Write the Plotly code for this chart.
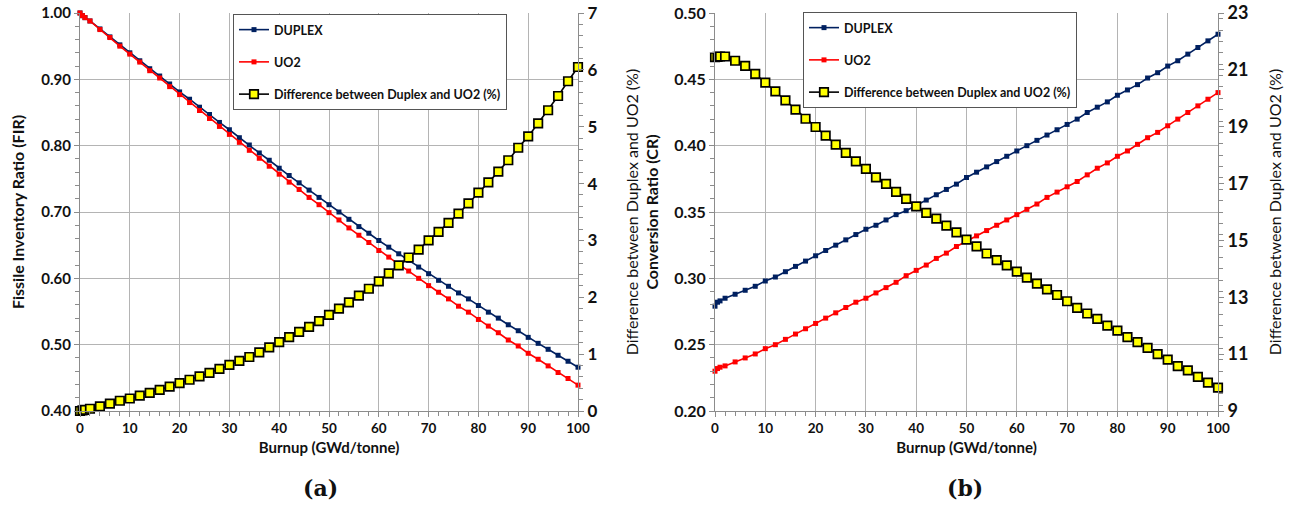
import plotly.graph_objects as go

# ---------------- data ----------------
burnup = [0, 0.5, 1, 2, 4, 6, 8, 10, 12, 14, 16, 18, 20, 22, 24, 26, 28, 30, 32, 34, 36, 38,
          40, 42, 44, 46, 48, 50, 52, 54, 56, 58, 60, 62, 64, 66, 68, 70, 72, 74, 76, 78,
          80, 82, 84, 86, 88, 90, 92, 94, 96, 98, 100]

# Panel (a): Fissile Inventory Ratio
fir_duplex = [1.000, 0.996, 0.993, 0.988, 0.976, 0.964, 0.952, 0.940, 0.928, 0.916, 0.905,
              0.893, 0.881, 0.870, 0.858, 0.847, 0.835, 0.824, 0.812, 0.801, 0.789, 0.778,
              0.766, 0.755, 0.744, 0.733, 0.722, 0.711, 0.700, 0.689, 0.678, 0.668, 0.657,
              0.647, 0.637, 0.627, 0.617, 0.607, 0.597, 0.588, 0.578, 0.569, 0.559, 0.549,
              0.540, 0.530, 0.521, 0.511, 0.502, 0.493, 0.484, 0.475, 0.466]
fir_uo2 = [1.000, 0.996, 0.993, 0.988, 0.975, 0.963, 0.950, 0.938, 0.926, 0.913, 0.902,
           0.889, 0.877, 0.865, 0.853, 0.841, 0.829, 0.817, 0.805, 0.793, 0.781, 0.769,
           0.757, 0.745, 0.734, 0.722, 0.711, 0.699, 0.688, 0.676, 0.665, 0.654, 0.642,
           0.632, 0.621, 0.611, 0.600, 0.589, 0.579, 0.569, 0.558, 0.549, 0.538, 0.528,
           0.518, 0.507, 0.498, 0.487, 0.478, 0.468, 0.458, 0.449, 0.439]
fir_diff = [0.00, 0.01, 0.02, 0.04, 0.08, 0.13, 0.18, 0.22, 0.27, 0.32, 0.37, 0.43, 0.49,
            0.55, 0.61, 0.67, 0.74, 0.81, 0.88, 0.95, 1.03, 1.12, 1.21, 1.30, 1.39, 1.48,
            1.58, 1.69, 1.80, 1.91, 2.03, 2.15, 2.28, 2.42, 2.56, 2.70, 2.84, 3.00, 3.15,
            3.31, 3.47, 3.65, 3.84, 4.02, 4.21, 4.41, 4.63, 4.83, 5.06, 5.29, 5.54, 5.80, 6.05]

# Panel (b): Conversion Ratio
cr_duplex = [0.279, 0.282, 0.283, 0.285, 0.288, 0.291, 0.294, 0.298, 0.301, 0.305, 0.309,
             0.313, 0.317, 0.321, 0.325, 0.329, 0.333, 0.337, 0.340, 0.344, 0.348, 0.351,
             0.355, 0.359, 0.363, 0.367, 0.371, 0.376, 0.380, 0.384, 0.388, 0.392, 0.396,
             0.400, 0.404, 0.408, 0.412, 0.416, 0.420, 0.425, 0.429, 0.433, 0.438, 0.442,
             0.446, 0.451, 0.455, 0.460, 0.464, 0.469, 0.474, 0.479, 0.484]
cr_uo2 = [0.230, 0.232, 0.233, 0.234, 0.237, 0.240, 0.243, 0.247, 0.250, 0.254, 0.258,
          0.262, 0.266, 0.270, 0.274, 0.278, 0.282, 0.285, 0.289, 0.293, 0.297, 0.302,
          0.306, 0.310, 0.315, 0.319, 0.324, 0.328, 0.332, 0.336, 0.340, 0.344, 0.348,
          0.352, 0.356, 0.361, 0.365, 0.369, 0.373, 0.378, 0.383, 0.387, 0.392, 0.396,
          0.401, 0.406, 0.410, 0.415, 0.420, 0.425, 0.430, 0.435, 0.440]
cr_diff = [21.45, 21.46, 21.47, 21.47, 21.32, 21.14, 20.86, 20.55, 20.24, 19.93, 19.60,
           19.28, 18.99, 18.69, 18.37, 18.08, 17.78, 17.52, 17.22, 16.99, 16.71, 16.46,
           16.20, 15.97, 15.77, 15.52, 15.28, 15.03, 14.79, 14.54, 14.31, 14.12, 13.90,
           13.69, 13.48, 13.28, 13.08, 12.86, 12.63, 12.43, 12.24, 12.00, 11.83, 11.60,
           11.42, 11.22, 11.00, 10.81, 10.58, 10.43, 10.20, 10.00, 9.82]

series_names = ["DUPLEX", "UO2", "Difference between Duplex and UO2 (%)"]
x_title = "Burnup (GWd/tonne)"
panel_labels = ["(a)", "(b)"]

# ---------------- styles ----------------
NAVY = "#002060"
RED = "#FF0000"
YELLOW = "#FFFF00"
GRID = "#B4B4B4"
AXIS = "#8C8C8C"
FONT = "Lato"


def bold(size):
    return dict(family=FONT, size=size, color="#111111", weight="bold")


fig = go.Figure()


def add_panel(xa, ya, ya2, legend, duplex, uo2, diff):
    fig.add_trace(go.Scatter(
        x=burnup, y=duplex, name=series_names[0], mode="lines+markers",
        line=dict(color=NAVY, width=1.6), marker=dict(symbol="square", size=5, color=NAVY),
        xaxis=xa, yaxis=ya, legend=legend, legendgroup=legend + "d", cliponaxis=False))
    fig.add_trace(go.Scatter(
        x=burnup, y=uo2, name=series_names[1], mode="lines+markers",
        line=dict(color=RED, width=1.6), marker=dict(symbol="square", size=5, color=RED),
        xaxis=xa, yaxis=ya, legend=legend, legendgroup=legend + "u", cliponaxis=False))
    fig.add_trace(go.Scatter(
        x=burnup, y=diff, name=series_names[2], mode="lines+markers",
        line=dict(color="#000000", width=1.6),
        marker=dict(symbol="square", size=8.5, color=YELLOW, line=dict(color="#000000", width=1.7)),
        xaxis=xa, yaxis=ya2, legend=legend, legendgroup=legend + "f", cliponaxis=False))


add_panel("x", "y", "y2", "legend", fir_duplex, fir_uo2, fir_diff)
add_panel("x2", "y3", "y4", "legend2", cr_duplex, cr_uo2, cr_diff)

L, R, T, B = 80, 77, 13, 95
W, H = 1295, 506
pw = W - L - R
dom_a = [0, (578 - L) / pw]
dom_b = [(715 - L) / pw, 1.0]


def xaxis(domain, anchor):
    return dict(domain=domain, anchor=anchor, range=[0, 100], tick0=0, dtick=10,
                showgrid=True, gridcolor=GRID, gridwidth=1.2, zeroline=False,
                showline=True, linecolor=AXIS, linewidth=1,
                ticks="outside", ticklen=5, tickcolor=AXIS,
                minor=dict(dtick=2, ticks="outside", ticklen=4, tickcolor=AXIS, showgrid=False),
                tickfont=bold(13.5),
                title=dict(text=x_title, font=bold(15), standoff=7))


def yaxis_left(rng, dtick, minor, fmt, title, fs, tfs, anchor, standoff):
    return dict(domain=[0, 1], anchor=anchor, range=rng, tick0=rng[0], dtick=dtick,
                tickformat=fmt, showgrid=True, gridcolor=GRID, gridwidth=1.2, zeroline=False,
                showline=True, linecolor=AXIS, linewidth=1,
                ticks="outside", ticklen=5, tickcolor=AXIS,
                minor=dict(dtick=minor, ticks="outside", ticklen=4, tickcolor=AXIS, showgrid=False),
                tickfont=bold(tfs),
                title=dict(text=title, font=bold(fs), standoff=standoff))


def yaxis_right(rng, dtick, minor, title, tfs, anchor, overlay, standoff):
    return dict(anchor=anchor, overlaying=overlay, side="right", range=rng, tick0=rng[0],
                dtick=dtick, showgrid=False, zeroline=False,
                showline=True, linecolor=AXIS, linewidth=1,
                ticks="outside", ticklen=5, tickcolor=AXIS,
                minor=dict(dtick=minor, ticks="outside", ticklen=4, tickcolor=AXIS, showgrid=False),
                tickfont=bold(tfs),
                title=dict(text=title, font=dict(family=FONT, size=16, color="#111111"),
                           standoff=standoff))


legend_common = dict(bgcolor="white", bordercolor="#555555", borderwidth=1,
                     font=dict(family=FONT, size=12.5, color="#111111", weight="bold"),
                     itemwidth=30, tracegroupgap=13, xanchor="left", yanchor="top",
                     traceorder="grouped")

fig.update_layout(
    width=W, height=H,
    margin=dict(l=L, r=R, t=T, b=B, autoexpand=False),
    paper_bgcolor="white", plot_bgcolor="white",
    showlegend=True,
    xaxis=xaxis(dom_a, "y"),
    xaxis2=xaxis(dom_b, "y3"),
    yaxis=yaxis_left([0.4, 1.0], 0.1, 0.02, ".2f", "Fissile Inventory Ratio (FIR)", 16, 15, "x", 12),
    yaxis2=yaxis_right([0, 7], 1, 0.2, "Difference between Duplex and UO2 (%)", 17, "x", "y", 30),
    yaxis3=yaxis_left([0.2, 0.5], 0.05, 0.01, ".2f", "Conversion Ratio (CR)", 16, 16, "x2", 11),
    yaxis4=yaxis_right([9, 23], 2, 0.4, "Difference between Duplex and UO2 (%)", 18, "x2", "y3", 22),
    legend=dict(x=(233 - L) / pw, y=(411 - 14) / 398, **legend_common),
    legend2=dict(x=(803 - L) / pw, y=(411 - 12) / 398, **legend_common),
)

for lab, cx in zip(panel_labels, [320, 965]):
    fig.add_annotation(text=lab, xref="paper", yref="paper", x=(cx - L) / pw,
                       y=(411 - 488) / 398, showarrow=False, xanchor="center", yanchor="middle",
                       font=dict(family="DejaVu Serif", size=22, color="#111111", weight="bold"))

fig.write_html("out.html")
